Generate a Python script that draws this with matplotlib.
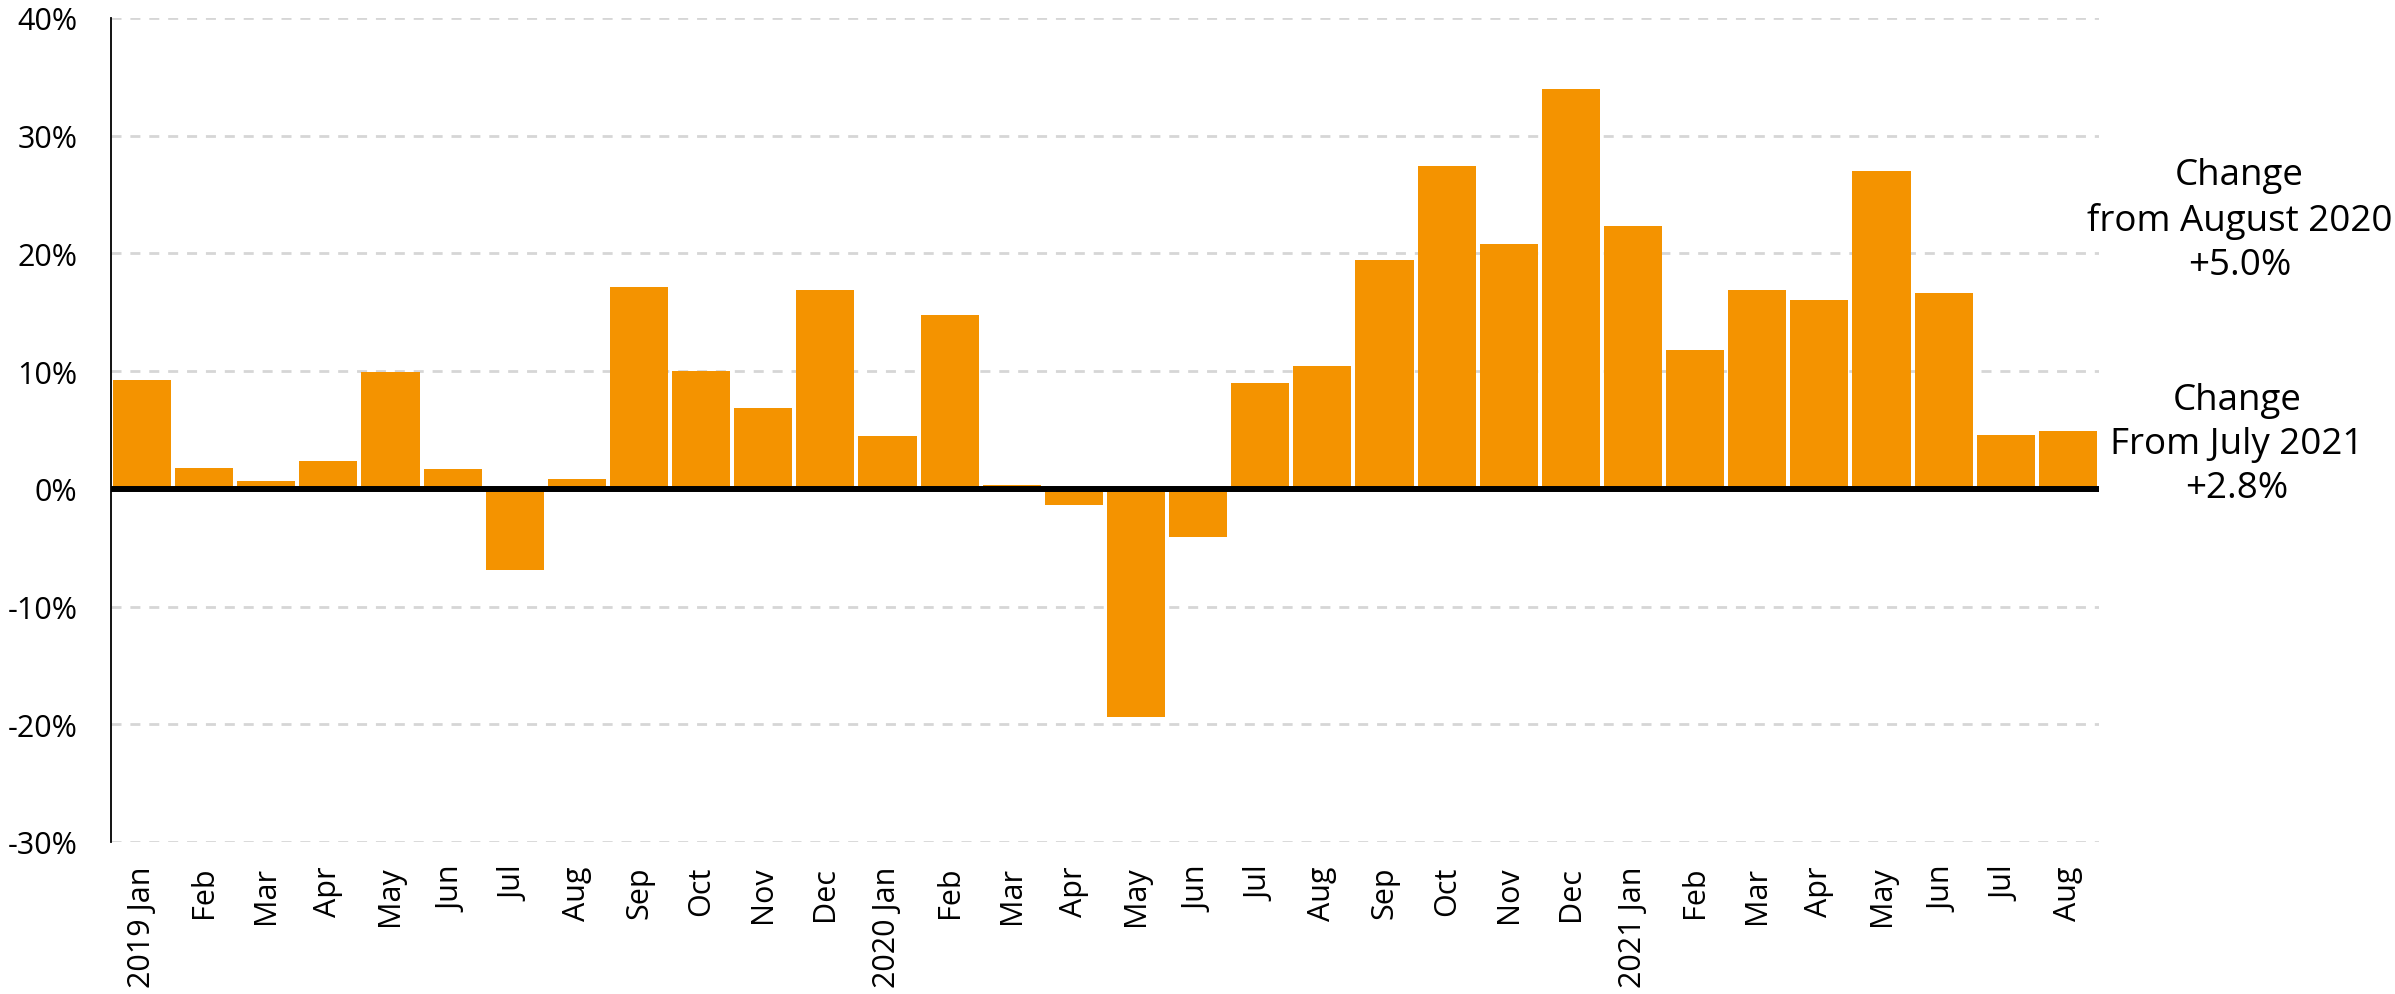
import matplotlib
matplotlib.use("Agg")
import matplotlib.pyplot as plt
import numpy as np

plt.rcParams['font.family'] = ['Open Sans', 'DejaVu Sans']

# monthly change, Jan 2019 - Aug 2021 (%)
months = ['2019 Jan', 'Feb', 'Mar', 'Apr', 'May', 'Jun', 'Jul', 'Aug', 'Sep', 'Oct', 'Nov', 'Dec',
          '2020 Jan', 'Feb', 'Mar', 'Apr', 'May', 'Jun', 'Jul', 'Aug', 'Sep', 'Oct', 'Nov', 'Dec',
          '2021 Jan', 'Feb', 'Mar', 'Apr', 'May', 'Jun', 'Jul', 'Aug']
values = [9.2, 1.8, 0.7, 2.4, 9.9, 1.7, -6.9, 0.8, 17.1, 10.0, 6.9, 16.9,
          4.5, 14.8, 0.3, -1.4, -19.4, -4.1, 9.0, 10.4, 19.4, 27.4, 20.8, 34.0,
          22.3, 11.8, 16.9, 16.0, 27.0, 16.6, 4.6, 4.9]
yticks = [-30, -20, -10, 0, 10, 20, 30, 40]

note_aug = 'Change\nfrom August 2020\n+5.0%'
note_jul = 'Change\nFrom July 2021\n+2.8%'

fig = plt.figure(figsize=(23.95, 9.95), dpi=100)
ax = fig.add_axes([0.0463, 0.1528, 0.8301, 0.8282])

x = np.arange(len(months))
ax.bar(x, values, width=0.935, color='#F49300', zorder=2)

# dashed grid
for t in yticks:
    if t != 0:
        ax.axhline(t, color='#d6d6d6', lw=2, linestyle=(0, (3.6, 3.2)), zorder=1)
ax.axhline(0, color='black', lw=4.3, zorder=3)

ax.set_xlim(-0.5, len(months) - 0.5)
ax.set_ylim(-30, 40)
ax.set_yticks(yticks)
ax.set_yticklabels([f'{t}%' for t in yticks])
ax.set_xticks(x)
ax.set_xticklabels(months, rotation=90, va='top', ha='center')
ax.tick_params(axis='y', length=0, pad=24, labelsize=22)
ax.tick_params(axis='x', length=0, pad=17, labelsize=22)

for s in ['top', 'right', 'bottom']:
    ax.spines[s].set_visible(False)
ax.spines['left'].set_linewidth(1.3)

fig.text(0.935, 0.778, note_aug, ha='center', va='center', fontsize=26.5, linespacing=1.3)
fig.text(0.934, 0.553, note_jul, ha='center', va='center', fontsize=26.5, linespacing=1.3)

fig.savefig('out.png', dpi=100)
